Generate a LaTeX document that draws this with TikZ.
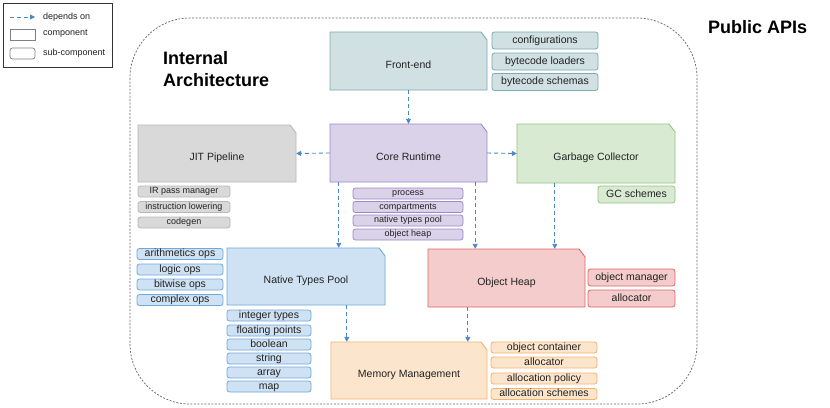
\documentclass[tikz,border=0pt]{standalone}
\usepackage{fontspec}
\setmainfont{Liberation Sans}
\usetikzlibrary{arrows.meta}
\definecolor{txt}{HTML}{222222}
\definecolor{arrowc}{HTML}{4A86C8}
\definecolor{feF}{HTML}{D0E0E3}\definecolor{feD}{HTML}{7FA9B3}
\definecolor{jitF}{HTML}{D9D9D9}\definecolor{jitD}{HTML}{B7B7B7}
\definecolor{coreF}{HTML}{D9D2E9}\definecolor{coreD}{HTML}{9A8BC8}
\definecolor{gcF}{HTML}{D9EAD3}\definecolor{gcD}{HTML}{93C47D}
\definecolor{ntF}{HTML}{CFE2F3}\definecolor{ntD}{HTML}{6FA8DC}
\definecolor{ohF}{HTML}{F4CCCC}\definecolor{ohD}{HTML}{E06666}
\definecolor{mmF}{HTML}{FCE5CD}\definecolor{mmD}{HTML}{F6B26B}
\newcommand\compo[8]{%
  \filldraw[fill=#6, draw=#7, line width=0.9pt] (#2,#3) -- ({#4-6},#3) -- (#4,{#3+8}) -- (#4,#5) -- (#2,#5) -- cycle;
  \node[comptext, minimum width={(#4-#2)*1pt}, minimum height={(#5-#3)*1pt}] (#1) at ({(#2+#4)/2},{(#3+#5)/2}) {\raisebox{-7pt}[0pt][0pt]{#8}};}
\begin{document}
\begin{tikzpicture}[x=1pt,y=-1pt,
  dep/.style={draw=arrowc, line width=0.9pt, dash pattern=on 4pt off 3pt, -{Triangle[length=5pt,width=5pt]}},
  comptext/.style={inner sep=0pt, font=\fontsize{10.5}{12}\selectfont, text=txt},
  sub/.style={draw, rounded corners=2.5pt, inner sep=0pt, line width=0.8pt, text=txt, font=\fontsize{10.5}{12}\selectfont, text height=7.6pt, text depth=2pt},
  subs/.style={sub, font=\fontsize{9}{10}\selectfont, text height=6.5pt, text depth=1.7pt},
  fe/.style={fill=feF, draw=feD}, jit/.style={fill=jitF, draw=jitD}, core/.style={fill=coreF, draw=coreD},
  gc/.style={fill=gcF, draw=gcD}, nt/.style={fill=ntF, draw=ntD}, oh/.style={fill=ohF, draw=ohD}, mm/.style={fill=mmF, draw=mmD},
  heading/.style={anchor=west, inner sep=0pt, font=\fontsize{18}{20}\selectfont\bfseries, text=black},
  legtext/.style={anchor=west, inner sep=0pt, font=\fontsize{9}{10}\selectfont, text=txt}]
\useasboundingbox (0,0) rectangle (830,407);
\fill[white] (0,0) rectangle (830,407);

% boundary
\draw[gray!80!black, line width=0.7pt, dash pattern=on 2pt off 1.5pt, rounded corners=60pt] (130,18) rectangle (697,404);
\node[heading] (pub) at (708,27) {Public APIs};
\node[heading] (int1) at (163,58) {Internal};
\node[heading] (int2) at (163,80) {Architecture};

% legend
\draw[black!80, line width=0.9pt] (3,3) rectangle (112,67);
\coordinate (la) at (10,17); \coordinate (lb) at (35,17);
\draw[dep] (la) -- (lb);
\node[draw=gray, line width=0.7pt, minimum width=25pt, minimum height=11pt, inner sep=0pt] (lcomp) at (22.5,34.5) {};
\node[draw=gray, line width=0.7pt, rounded corners=2.5pt, minimum width=25pt, minimum height=11pt, inner sep=0pt] (lsub) at (22.5,53.5) {};
\node[legtext] (l1) at (43,17) {depends on};
\node[legtext] (l2) at (43,34) {component};
\node[legtext] (l3) at (43,53) {sub-component};

% components
\compo{fe}{330}{32}{487}{90}{feF}{feD}{Front-end}
\compo{jit}{138}{125}{296}{182}{jitF}{jitD}{JIT Pipeline}
\compo{core}{330}{124}{487}{182}{coreF}{coreD}{Core Runtime}
\compo{gc}{517}{124}{675}{183}{gcF}{gcD}{Garbage Collector}
\compo{ntp}{227}{248}{385}{305}{ntF}{ntD}{Native Types Pool}
\compo{oh}{428}{249}{585}{307}{ohF}{ohD}{Object Heap}
\compo{mm}{331}{342}{487}{399}{mmF}{mmD}{Memory Management}

% front-end subs
\node[sub, fe, minimum width=106pt, minimum height=17pt] (fe1) at (545,40.5) {configurations};
\node[sub, fe, minimum width=106pt, minimum height=17pt] (fe2) at (545,61.5) {bytecode loaders};
\node[sub, fe, minimum width=106pt, minimum height=17pt] (fe3) at (545,82) {bytecode schemas};

% jit subs
\node[subs, jit, minimum width=92pt, minimum height=11pt] (j1) at (184,191.5) {IR pass manager};
\node[subs, jit, minimum width=92pt, minimum height=11pt] (j2) at (184,207) {instruction lowering};
\node[subs, jit, minimum width=92pt, minimum height=11pt] (j3) at (184,222.5) {codegen};

% core subs
\node[subs, core, minimum width=110pt, minimum height=11pt] (c1) at (408,193.5) {process};
\node[subs, core, minimum width=110pt, minimum height=11pt] (c2) at (408,207) {compartments};
\node[subs, core, minimum width=110pt, minimum height=11pt] (c3) at (408,220.5) {native types pool};
\node[subs, core, minimum width=110pt, minimum height=11pt] (c4) at (408,234.5) {object heap};

% gc subs
\node[sub, gc, minimum width=77pt, minimum height=17pt] (g1) at (636.5,194.5) {GC schemes};

% native types left subs
\node[sub, nt, minimum width=86pt, minimum height=11pt] (n1) at (180,254) {arithmetics ops};
\node[sub, nt, minimum width=86pt, minimum height=11pt] (n2) at (180,269.5) {logic ops};
\node[sub, nt, minimum width=86pt, minimum height=11pt] (n3) at (180,284.5) {bitwise ops};
\node[sub, nt, minimum width=86pt, minimum height=11pt] (n4) at (180,300) {complex ops};
% native types bottom subs
\node[sub, nt, minimum width=84pt, minimum height=11pt] (t1) at (269,315.5) {integer types};
\node[sub, nt, minimum width=84pt, minimum height=11pt] (t2) at (269,330.5) {floating points};
\node[sub, nt, minimum width=84pt, minimum height=11pt] (t3) at (269,344.5) {boolean};
\node[sub, nt, minimum width=84pt, minimum height=11pt] (t4) at (269,358.5) {string};
\node[sub, nt, minimum width=84pt, minimum height=11pt] (t5) at (269,372.5) {array};
\node[sub, nt, minimum width=84pt, minimum height=11pt] (t6) at (269,386.5) {map};

% object heap subs
\node[sub, oh, minimum width=87pt, minimum height=17pt] (o1) at (631.5,277.5) {object manager};
\node[sub, oh, minimum width=87pt, minimum height=17pt] (o2) at (631.5,298.5) {allocator};

% memory management subs
\node[sub, mm, minimum width=106pt, minimum height=11pt] (m1) at (544,347.5) {object container};
\node[sub, mm, minimum width=106pt, minimum height=11pt] (m2) at (544,362.5) {allocator};
\node[sub, mm, minimum width=106pt, minimum height=11pt] (m3) at (544,378.5) {allocation policy};
\node[sub, mm, minimum width=106pt, minimum height=11pt] (m4) at (544,394) {allocation schemes};

% dependencies
\draw[dep] (fe.south) -- (core.north);
\draw[dep] (core.west) -- (jit.east);
\draw[dep] (core.east) -- (gc.west);
\draw[dep] ([xshift=9pt]core.south west) -- ([xshift=9pt]core.south west |- ntp.north);
\draw[dep] ([xshift=-12pt]core.south east) -- ([xshift=-12pt]core.south east |- oh.north);
\draw[dep] ([xshift=38pt]gc.south west) -- ([xshift=38pt]gc.south west |- oh.north);
\draw[dep] ([xshift=120pt]ntp.south west) -- ([xshift=120pt]ntp.south west |- mm.north);
\draw[dep] ([xshift=40pt]oh.south west) -- ([xshift=40pt]oh.south west |- mm.north);
\end{tikzpicture}
\end{document}
